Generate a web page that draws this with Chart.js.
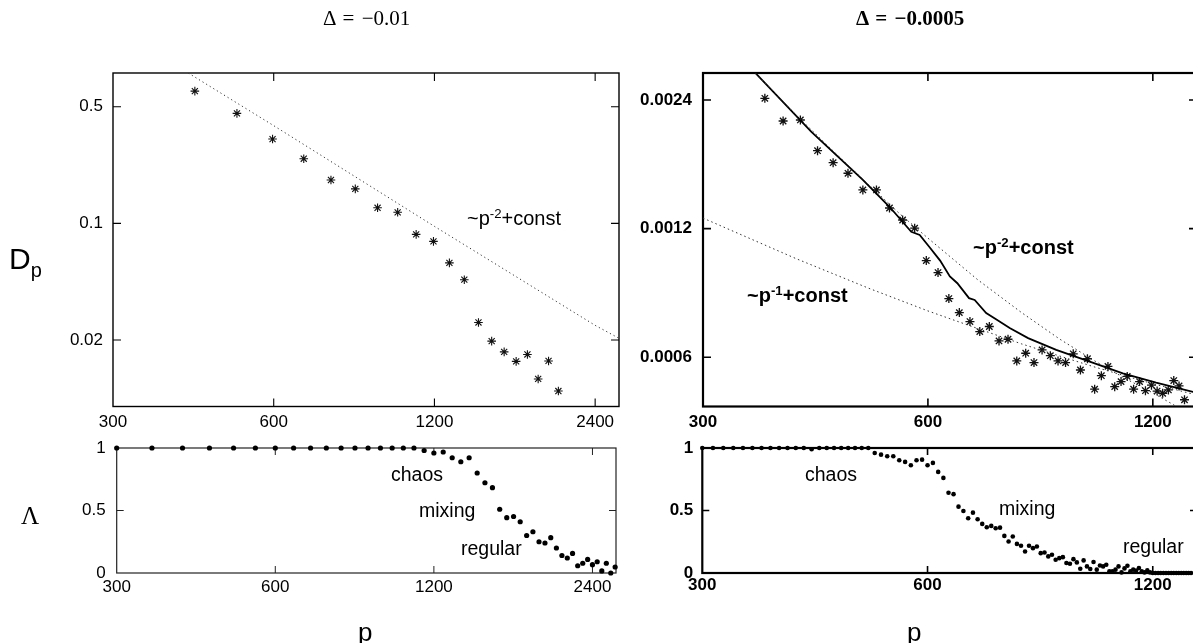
<!DOCTYPE html>
<html><head><meta charset="utf-8">
<script src="https://cdn.jsdelivr.net/npm/chart.js@4.4.1/dist/chart.umd.min.js"></script>
<style>
html,body{margin:0;padding:0;background:#fff;width:1193px;height:643px;overflow:hidden;position:relative;}
canvas{position:absolute;left:0;top:0;}
.t{position:absolute;white-space:nowrap;color:#000;font-family:"Liberation Sans",Arial,sans-serif;line-height:1;}
.serif{font-family:"Liberation Serif","Times New Roman",serif;}
.t sup{font-size:0.66em;position:relative;top:-0.5em;vertical-align:baseline;line-height:0;}
</style></head><body>
<canvas id="tl" width="1210" height="643"></canvas>
<canvas id="tr" width="1210" height="643"></canvas>
<canvas id="bl" width="1210" height="643"></canvas>
<canvas id="br" width="1210" height="643"></canvas>

<div class="t serif" style="left:323px;top:8px;font-size:21px;word-spacing:2px;">&Delta; = &minus;0.01</div>
<div class="t serif" style="left:856px;top:8px;font-size:21px;font-weight:bold;word-spacing:2px;">&Delta; = &minus;0.0005</div>
<div class="t" style="left:9px;top:244px;font-size:30px;">D<span style="font-size:20px;position:relative;top:8px;">p</span></div>
<div class="t serif" style="left:21px;top:503px;font-size:25px;">&Lambda;</div>
<div class="t" style="left:358px;top:619px;font-size:26px;">p</div>
<div class="t" style="left:907px;top:619px;font-size:26px;">p</div>

<div class="t" style="left:467px;top:208px;font-size:20px;">~p<sup>-2</sup>+const</div>
<div class="t" style="left:973px;top:237px;font-size:20px;font-weight:bold;">~p<sup>-2</sup>+const</div>
<div class="t" style="left:747px;top:285px;font-size:20px;font-weight:bold;">~p<sup>-1</sup>+const</div>

<div class="t" style="left:391px;top:465px;font-size:19.5px;">chaos</div>
<div class="t" style="left:419px;top:501px;font-size:19.5px;">mixing</div>
<div class="t" style="left:461px;top:539px;font-size:19.5px;">regular</div>
<div class="t" style="left:805px;top:465px;font-size:19.5px;">chaos</div>
<div class="t" style="left:999px;top:499px;font-size:19.5px;">mixing</div>
<div class="t" style="left:1123px;top:537px;font-size:19.5px;">regular</div>

<script>
// ---------- data ----------
const tlP = [427, 512, 597, 683, 768, 853, 939, 1024, 1109, 1195, 1280, 1365, 1451, 1536, 1621, 1707, 1792, 1877, 1963, 2048];
const tlD = [0.62, 0.456, 0.32, 0.244, 0.182, 0.161, 0.124, 0.1165, 0.086, 0.078, 0.058, 0.046, 0.0255, 0.0197, 0.017, 0.0149, 0.0164, 0.0117, 0.015, 0.0099];
const tlFitP = [415, 600, 1200, 2400, 2660];
const tlFitD = [0.796, 0.385, 0.096, 0.0245, 0.0205];

const trP = [363, 384, 405, 427, 448, 469, 491, 512, 533, 555, 576, 597, 619, 640, 661, 683, 704, 725, 747, 768, 789, 811, 832, 853, 875, 896, 917, 939, 960, 981, 1003, 1024, 1045, 1067, 1088, 1109, 1131, 1152, 1173, 1195, 1216, 1237, 1259, 1280, 1301, 1323];
const trD = [0.002422, 0.002143, 0.002155, 0.001826, 0.001712, 0.001617, 0.001478, 0.001478, 0.001341, 0.001257,
             0.001203, 0.00101, 0.000947, 0.000823, 0.000763, 0.000727, 0.000689, 0.000708, 0.000655, 0.000661,
             0.000588, 0.000613, 0.000583, 0.000624, 0.000605, 0.000588, 0.000583, 0.000611, 0.00056, 0.000595,
             0.000505, 0.000543, 0.000571, 0.000512, 0.000526, 0.000541, 0.000505, 0.000526, 0.000501, 0.000516,
             0.0005, 0.000494, 0.000503, 0.000529, 0.000514, 0.000477];
const trSolidP = [353, 419, 491, 533, 570, 585, 602, 623, 642, 657, 681, 693, 718, 742, 772, 817, 891, 988, 1094, 1212, 1375];
const trSolidD = [0.00277, 0.00202, 0.00156, 0.00135, 0.00118, 0.00116, 0.00109, 0.00101, 0.000927, 0.000894, 0.000825, 0.000817, 0.000761, 0.000734, 0.000702, 0.000665, 0.000624, 0.000586, 0.00055, 0.000523, 0.000495];
const trFit1P = [300, 400, 500, 600, 700, 800, 900, 1000, 1100, 1200, 1375];
const trFit1D = [0.00127, 0.00102, 0.00087, 0.00077, 0.0007, 0.000645, 0.000604, 0.00057, 0.000543, 0.00052, 0.000489];
const trFit2P = [353, 400, 450, 500, 550, 600, 700, 800, 900, 1000, 1100, 1200, 1291];
const trFit2D = [0.00277, 0.00221, 0.00181, 0.00152, 0.0013, 0.00114, 0.00091, 0.000764, 0.000662, 0.00059, 0.000536, 0.000495, 0.00046];

const blP = [300, 350, 400, 450, 500, 550, 600, 650, 700, 750, 800, 850, 900, 950, 1000, 1050, 1100,
             1150, 1200, 1250, 1300, 1350, 1400, 1450, 1500, 1550, 1600, 1650, 1700, 1750, 1800, 1850, 1900,
             1950, 2000, 2050, 2100, 2150, 2200, 2250, 2300, 2350, 2400, 2450, 2500, 2550, 2600, 2650];
const blL = [1, 1, 1, 1, 1, 1, 1, 1, 1, 1, 1, 1, 1, 1, 1, 1, 1,
             0.98, 0.96, 0.968, 0.922, 0.89, 0.922, 0.80, 0.722, 0.683, 0.51, 0.443, 0.452, 0.41, 0.30, 0.33, 0.25,
             0.24, 0.283, 0.20, 0.14, 0.12, 0.157, 0.058, 0.078, 0.109, 0.067, 0.09, 0.017, 0.078, 0.0, 0.048];

const brP = [300, 310, 320, 330, 340, 350, 360, 370, 380, 390, 400, 410, 420, 430, 440, 450, 460, 470, 480, 490, 500,
             510, 520, 530, 540, 550, 560, 570, 580, 590, 600, 610, 620, 630, 640, 650, 660, 670, 680, 690, 700,
             710, 720, 730, 740, 750, 760, 770, 780, 790, 800, 810, 820, 830, 840, 850, 860, 870, 880, 890, 900,
             910, 920, 930, 940, 950, 960, 970, 980, 990, 1000, 1010, 1020, 1030, 1040, 1050, 1060, 1070, 1080, 1090, 1100,
             1110, 1120, 1130, 1140, 1150, 1160, 1170, 1180, 1190, 1200, 1210, 1220, 1230, 1240, 1250, 1260, 1270, 1280, 1290, 1300,
             1310, 1320, 1330, 1340, 1350];
const brL = [1, 1, 1, 1, 1, 1, 1, 1, 1, 1, 1, 1, 0.99, 1, 1, 1, 1, 1, 1, 1, 1,
             0.96, 0.947, 0.934, 0.934, 0.902, 0.889, 0.862, 0.902, 0.907, 0.862, 0.881, 0.809, 0.761, 0.642, 0.631, 0.531, 0.496, 0.438, 0.483, 0.43,
             0.393, 0.366, 0.377, 0.358, 0.363, 0.297, 0.252, 0.292, 0.233, 0.218, 0.172, 0.218, 0.199, 0.212, 0.159, 0.164, 0.133, 0.146, 0.106, 0.119,
             0.127, 0.08, 0.074, 0.111, 0.085, 0.034, 0.101, 0.053, 0.032, 0.088, 0.027, 0.06, 0.053, 0.066, 0.013, 0.013, 0.027, 0.053, 0.005, 0.037,
             0.058, 0.013, 0.027, 0.02, 0.04, 0.013, 0.005, 0.021, 0.005, 0, 0, 0, 0, 0, 0, 0, 0, 0, 0, 0,
             0, 0, 0, 0, 0];

const xTicksLeft = [300, 600, 1200, 2400];
const xTicksRight = [300, 600, 1200];
const yTicksTL = [0.02, 0.1, 0.5];
const yTicksTR = [0.0006, 0.0012, 0.0024];
const yTicksLam = [0, 0.5, 1];

// ---------- helpers ----------
const pts = (xs, ys) => xs.map((x, i) => ({x: x, y: ys[i]}));
const FAM = '"Liberation Sans", Arial, sans-serif';
Chart.defaults.font.family = FAM;
Chart.defaults.color = '#000';
const CW = 1210, CH = 643;

const frameTicks = {
  id: 'frameTicks',
  beforeDatasetsDraw(chart, args, o) {
    const {ctx, chartArea: a, scales} = chart;
    ctx.save();
    ctx.strokeStyle = o.color || '#000';
    ctx.lineWidth = o.tickWidth || 1;
    const L = o.len || 7;
    ctx.beginPath();
    scales.x.ticks.forEach(t => {
      const px = scales.x.getPixelForValue(t.value);
      if (px <= a.left + 1 || px >= a.right - 1) return;
      ctx.moveTo(px, a.bottom); ctx.lineTo(px, a.bottom - L);
      ctx.moveTo(px, a.top); ctx.lineTo(px, a.top + L);
    });
    scales.y.ticks.forEach(t => {
      const py = scales.y.getPixelForValue(t.value);
      if (py <= a.top + 1 || py >= a.bottom - 1) return;
      ctx.moveTo(a.left, py); ctx.lineTo(a.left + L, py);
      ctx.moveTo(a.right, py); ctx.lineTo(a.right - L, py);
    });
    ctx.stroke();
    ctx.lineWidth = o.frameWidth || 1;
    ctx.strokeRect(a.left, a.top, a.right - a.left, a.bottom - a.top);
    ctx.restore();
  }
};

function build(id, g, datasets, sx, sy, frame) {
  return new Chart(document.getElementById(id), {
    type: 'scatter',
    data: {datasets: datasets},
    options: {
      responsive: false, animation: false, events: [],
      layout: {padding: {left: 0, top: g.top, right: CW - g.right, bottom: 0}},
      plugins: {legend: {display: false}, tooltip: {enabled: false}, frameTicks: frame},
      scales: {
        x: {
          type: sx.type, min: sx.min, max: sx.max, bounds: 'data', position: 'bottom',
          grid: {display: false, drawTicks: false}, border: {display: false},
          afterBuildTicks: s => { s.ticks = sx.ticks.map(v => ({value: v})); },
          afterFit: s => { s.height = CH - g.bottom; },
          ticks: {callback: v => String(v), font: sx.font, color: '#000', padding: sx.pad,
                  maxRotation: 0, minRotation: 0, autoSkip: false}
        },
        y: {
          type: sy.type, min: sy.min, max: sy.max, bounds: 'data', position: 'left',
          grid: {display: false, drawTicks: false}, border: {display: false},
          afterBuildTicks: s => { s.ticks = sy.ticks.map(v => ({value: v})); },
          afterFit: s => { s.width = g.left; },
          ticks: {callback: v => String(v), font: sy.font, color: '#000', padding: sy.pad, autoSkip: false}
        }
      }
    },
    plugins: [frameTicks]
  });
}

const fL = {size: 17, weight: 'normal'};
const fR = {size: 17, weight: 'bold'};

// top-left
build('tl', {left: 113, right: 619, top: 73, bottom: 406.5}, [
  {data: pts(tlFitP, tlFitD), showLine: true, borderColor: '#333', borderWidth: 1, borderDash: [1.2, 3],
   pointRadius: 0, fill: false},
  {data: pts(tlP, tlD), pointStyle: 'star', pointRadius: 4.3, borderColor: '#111', borderWidth: 1.1,
   backgroundColor: '#111', showLine: false, clip: false}
], {type: 'logarithmic', min: 300, max: 2660, ticks: xTicksLeft, font: fL, pad: 6},
   {type: 'logarithmic', min: 0.008, max: 0.796, ticks: yTicksTL, font: fL, pad: 10},
   {len: 8, tickWidth: 1.1, frameWidth: 1.4, color: '#000'});

// top-right
build('tr', {left: 703, right: 1197, top: 73, bottom: 406.5}, [
  {data: pts(trFit2P, trFit2D), showLine: true, borderColor: '#333', borderWidth: 1, borderDash: [1.5, 3],
   pointRadius: 0, fill: false},
  {data: pts(trFit1P, trFit1D), showLine: true, borderColor: '#333', borderWidth: 1, borderDash: [1.5, 3],
   pointRadius: 0, fill: false},
  {data: pts(trSolidP, trSolidD), showLine: true, borderColor: '#000', borderWidth: 1.8,
   pointRadius: 0, fill: false},
  {data: pts(trP, trD), pointStyle: 'star', pointRadius: 4.5, borderColor: '#111', borderWidth: 1.3,
   backgroundColor: '#111', showLine: false, clip: false}
], {type: 'logarithmic', min: 300, max: 1375, ticks: xTicksRight, font: fR, pad: 6},
   {type: 'logarithmic', min: 0.00046, max: 0.002776, ticks: yTicksTR, font: fR, pad: 11},
   {len: 8, tickWidth: 1.6, frameWidth: 2.2, color: '#000'});

// bottom-left
build('bl', {left: 116.7, right: 616, top: 448, bottom: 573}, [
  {data: pts(blP, blL), pointStyle: 'circle', pointRadius: 2.6, borderWidth: 0,
   backgroundColor: '#000', showLine: false, clip: false}
], {type: 'logarithmic', min: 300, max: 2660, ticks: xTicksLeft, font: fL, pad: 4},
   {type: 'linear', min: 0, max: 1, ticks: yTicksLam, font: fL, pad: 11},
   {len: 7, tickWidth: 1, frameWidth: 1.2, color: '#222'});

// bottom-right
build('br', {left: 702.3, right: 1197, top: 448, bottom: 573}, [
  {data: pts(brP, brL), pointStyle: 'circle', pointRadius: 2.3, borderWidth: 0,
   backgroundColor: '#000', showLine: false, clip: false}
], {type: 'logarithmic', min: 300, max: 1375, ticks: xTicksRight, font: fR, pad: 2},
   {type: 'linear', min: 0, max: 1, ticks: yTicksLam, font: fR, pad: 9},
   {len: 7, tickWidth: 1.6, frameWidth: 2.2, color: '#000'});
</script>
</body></html>
